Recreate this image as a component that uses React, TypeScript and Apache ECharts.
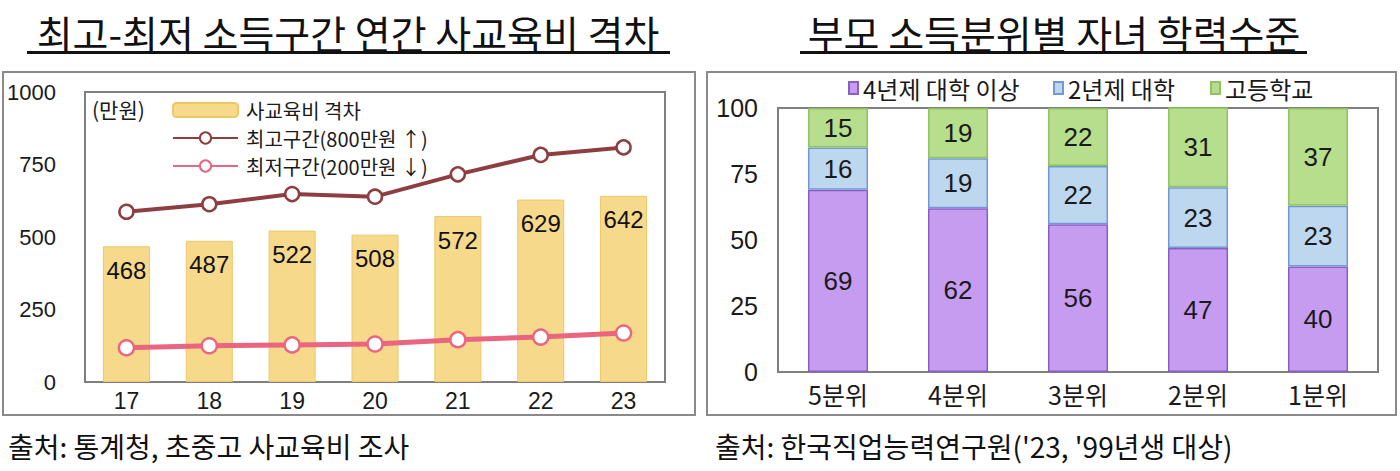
import React, { useEffect, useRef } from "react";
import * as echarts from "echarts";

const KR = "'Noto Sans CJK KR', 'Noto Sans', sans-serif";
const NARROW = "'Liberation Sans Narrow', 'Liberation Sans', Arial, sans-serif";
const SANS = "'Liberation Sans', Arial, sans-serif";

// Left chart data
const years = ["17", "18", "19", "20", "21", "22", "23"];
const gapValues = [468, 487, 522, 508, 572, 629, 642];
const highValues = [587, 613, 648, 639, 716, 783, 809];
const lowValues = [118, 125, 128, 131, 146, 155, 169];
const leftTicks = { min: 0, max: 1000, interval: 250 };

// Right chart data
const quintiles = ["5분위", "4분위", "3분위", "2분위", "1분위"];
const univ4 = [69, 62, 56, 47, 40];
const univ2 = [16, 19, 22, 23, 23];
const highSchool = [15, 19, 22, 31, 37];
const rightTicks = { min: 0, max: 100, interval: 25 };

const leftTitle = "최고-최저 소득구간 연간 사교육비 격차";
const rightTitle = "부모 소득분위별 자녀 학력수준";
const leftSource = "출처: 통계청, 초중고 사교육비 조사";
const rightSource = "출처: 한국직업능력연구원('23, '99년생 대상)";

export default function App() {
  const ref = useRef<HTMLDivElement>(null);
  useEffect(() => {
    if (!ref.current) return;
    const chart = echarts.init(ref.current, null, { renderer: "svg" });
    const maroon = "#8E3E41";
    const pink = "#EA6580";
    const option: any = {
      animation: false,
      backgroundColor: "#ffffff",
      grid: [
        { left: 85, top: 92, width: 580, height: 290, show: true, borderColor: "#7f7f7f", borderWidth: 2, containLabel: false },
        { left: 778, top: 108, width: 600, height: 264, show: true, borderColor: "#7f7f7f", borderWidth: 2, containLabel: false },
      ],
      xAxis: [
        {
          gridIndex: 0, type: "category", data: years,
          axisLine: { show: false }, axisTick: { show: false },
          axisLabel: { fontFamily: NARROW, fontSize: 23, color: "#1a1a1a", margin: 7 },
        },
        {
          gridIndex: 1, type: "category", data: quintiles,
          axisLine: { show: false }, axisTick: { show: false },
          axisLabel: { fontFamily: KR, fontSize: 25, color: "#1a1a1a", margin: 9 },
        },
      ],
      yAxis: [
        {
          gridIndex: 0, type: "value", ...leftTicks,
          axisLine: { show: false }, axisTick: { show: false }, splitLine: { show: false },
          axisLabel: { fontFamily: NARROW, fontSize: 22, color: "#1a1a1a", margin: 29, formatter: (v: number) => String(v) },
        },
        {
          gridIndex: 1, type: "value", ...rightTicks,
          axisLine: { show: false }, axisTick: { show: false }, splitLine: { show: false },
          axisLabel: { fontFamily: SANS, fontSize: 25, color: "#1a1a1a", margin: 20, formatter: (v: number) => String(v) },
        },
      ],
      legend: [
        {
          orient: "vertical", left: 167, top: 95, itemWidth: 65, itemHeight: 14, itemGap: 8,
          data: ["사교육비 격차", "최고구간(800만원 ↑)", "최저구간(200만원 ↓)"],
          textStyle: { fontFamily: KR, fontSize: 20, color: "#1a1a1a", padding: [0, 0, 0, 3] },
        },
        {
          left: 843, top: 71, itemWidth: 9, itemHeight: 12, icon: "rect",
          data: ["4년제 대학 이상"],
          textStyle: { fontFamily: KR, fontSize: 24, color: "#1a1a1a" },
        },
        {
          left: 1048, top: 71, itemWidth: 9, itemHeight: 12, icon: "rect",
          data: ["2년제 대학"],
          textStyle: { fontFamily: KR, fontSize: 24, color: "#1a1a1a" },
        },
        {
          left: 1205, top: 71, itemWidth: 9, itemHeight: 12, icon: "rect",
          data: ["고등학교"],
          textStyle: { fontFamily: KR, fontSize: 24, color: "#1a1a1a" },
        },
      ],
      series: [
        {
          name: "사교육비 격차", type: "bar", xAxisIndex: 0, yAxisIndex: 0, data: gapValues,
          barWidth: 47,
          itemStyle: { color: "#F7D98C", borderColor: "#EEC766", borderWidth: 1 },
          label: {
            show: true, position: "insideTop", distance: 12,
            fontFamily: NARROW, fontSize: 24, lineHeight: 24, color: "#111",
          },
          z: 1,
        },
        {
          name: "최고구간(800만원 ↑)", type: "line", xAxisIndex: 0, yAxisIndex: 0, data: highValues,
          lineStyle: { color: maroon, width: 4 },
          symbol: "circle", symbolSize: 14,
          itemStyle: { color: "#ffffff", borderColor: maroon, borderWidth: 2.5 },
          z: 3,
        },
        {
          name: "최저구간(200만원 ↓)", type: "line", xAxisIndex: 0, yAxisIndex: 0, data: lowValues,
          lineStyle: { color: pink, width: 5 },
          symbol: "circle", symbolSize: 15,
          itemStyle: { color: "#ffffff", borderColor: pink, borderWidth: 2.5 },
          z: 3,
        },
        {
          name: "4년제 대학 이상", type: "bar", stack: "edu", xAxisIndex: 1, yAxisIndex: 1, data: univ4,
          barWidth: 60,
          itemStyle: { color: "#C69CF0", borderColor: "#8B5EC6", borderWidth: 1.5 },
          label: { show: true, position: "inside", fontFamily: SANS, fontSize: 26, color: "#1a1a1a" },
        },
        {
          name: "2년제 대학", type: "bar", stack: "edu", xAxisIndex: 1, yAxisIndex: 1, data: univ2,
          barWidth: 60,
          itemStyle: { color: "#BDD7EE", borderColor: "#7399D4", borderWidth: 1.5 },
          label: { show: true, position: "inside", fontFamily: SANS, fontSize: 26, color: "#1a1a1a" },
        },
        {
          name: "고등학교", type: "bar", stack: "edu", xAxisIndex: 1, yAxisIndex: 1, data: highSchool,
          barWidth: 60,
          itemStyle: { color: "#B7DE8C", borderColor: "#8FC263", borderWidth: 1.5 },
          label: { show: true, position: "inside", fontFamily: SANS, fontSize: 26, color: "#1a1a1a" },
        },
      ],
      graphic: [
        { type: "rect", shape: { x: 3, y: 72, width: 692, height: 343 }, style: { fill: "none", stroke: "#8a8a8a", lineWidth: 2 }, z: 0, silent: true },
        { type: "rect", shape: { x: 707, y: 72, width: 689, height: 343 }, style: { fill: "none", stroke: "#8a8a8a", lineWidth: 2 }, z: 0, silent: true },
        { type: "text", x: 348, y: 32, style: { text: leftTitle, fontFamily: KR, fontSize: 39, fill: "#111", align: "center", verticalAlign: "middle" } },
        { type: "rect", shape: { x: 27, y: 51, width: 643, height: 3 }, style: { fill: "#111" } },
        { type: "text", x: 1054, y: 32, style: { text: rightTitle, fontFamily: KR, fontSize: 39, fill: "#111", align: "center", verticalAlign: "middle" } },
        { type: "rect", shape: { x: 800, y: 51, width: 507, height: 3 }, style: { fill: "#111" } },
        { type: "text", x: 92, y: 109, style: { text: "(만원)", fontFamily: KR, fontSize: 21, fill: "#1a1a1a", align: "left", verticalAlign: "middle" } },
        { type: "text", x: 8, y: 446, style: { text: leftSource, fontFamily: KR, fontSize: 28, fill: "#111", align: "left", verticalAlign: "middle" } },
        { type: "text", x: 715, y: 446, style: { text: rightSource, fontFamily: KR, fontSize: 28, fill: "#111", align: "left", verticalAlign: "middle" } },
      ],
    };
    chart.setOption(option);
    return () => chart.dispose();
  }, []);
  return (
    <div
      ref={ref}
      style={{ position: "absolute", left: 0, top: 0, width: 1400, height: 471, background: "#fff" }}
    />
  );
}
